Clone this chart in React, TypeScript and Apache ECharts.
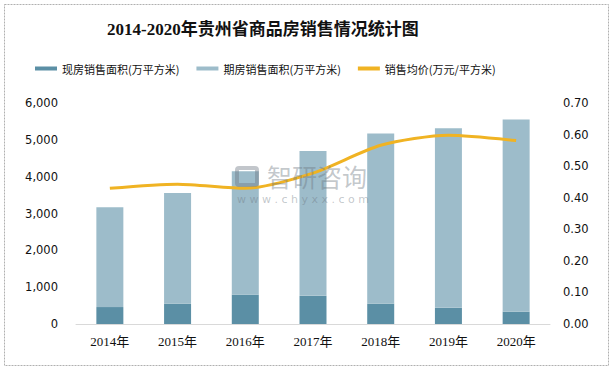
import React, { useEffect, useRef } from "react";
import * as echarts from "echarts";

const categories = ["2014年", "2015年", "2016年", "2017年", "2018年", "2019年", "2020年"];
const existingArea = [460, 550, 795, 765, 550, 440, 335];
const totalArea = [3170, 3555, 4150, 4695, 5170, 5315, 5550];
const futuresArea = totalArea.map((t, i) => t - existingArea[i]);
const avgPrice = [0.43, 0.443, 0.43, 0.478, 0.566, 0.598, 0.581];

const seriesNames = ["现房销售面积(万平方米)", "期房销售面积(万平方米)", "销售均价(万元/平方米)"];
const titleText = "2014-2020年贵州省商品房销售情况统计图";

export default function App() {
  const ref = useRef<HTMLDivElement>(null);
  useEffect(() => {
    document.body.style.margin = "0";
    const chart = echarts.init(ref.current!, null, { renderer: "svg" });
    const wmColor = "rgba(110,120,130,0.42)";
    chart.setOption({
      animation: false,
      backgroundColor: "#fff",
      title: {
        text: titleText,
        left: 102,
        top: 16,
        textStyle: {
          fontFamily: "'Liberation Serif', 'Noto Sans CJK SC', serif",
          fontSize: 17,
          fontWeight: "bold",
          color: "#111",
        },
      },
      legend: {
        left: 30,
        top: 58,
        icon: "rect",
        itemWidth: 22,
        itemHeight: 4,
        itemGap: 17,
        textStyle: {
          fontFamily: "'Noto Sans CJK SC', sans-serif",
          fontSize: 11,
          color: "#111",
        },
        data: seriesNames,
      },
      grid: { left: 76, right: 63, top: 103, bottom: 46 },
      xAxis: {
        type: "category",
        data: categories,
        axisLine: { lineStyle: { color: "#d9d9d9" } },
        axisTick: { show: false },
        axisLabel: {
          fontFamily: "'Liberation Serif', 'Noto Sans CJK SC', serif",
          fontSize: 13,
          color: "#111",
          margin: 11,
        },
      },
      yAxis: [
        {
          type: "value",
          min: 0,
          max: 6000,
          interval: 1000,
          splitLine: { show: false },
          axisLine: { show: false },
          axisTick: { show: false },
          axisLabel: {
            fontFamily: "'DejaVu Sans', sans-serif",
            fontSize: 11.5,
            color: "#111",
            margin: 18,
            formatter: (v: number) => v.toLocaleString("en-US"),
          },
        },
        {
          type: "value",
          min: 0,
          max: 0.7,
          interval: 0.1,
          splitLine: { show: false },
          axisLine: { show: false },
          axisTick: { show: false },
          axisLabel: {
            fontFamily: "'DejaVu Sans', sans-serif",
            fontSize: 11.5,
            color: "#111",
            margin: 13,
            formatter: (v: number) => v.toFixed(2),
          },
        },
      ],
      series: [
        {
          name: seriesNames[0],
          type: "bar",
          stack: "area",
          barWidth: 27,
          data: existingArea,
          itemStyle: { color: "#5b8fa5" },
        },
        {
          name: seriesNames[1],
          type: "bar",
          stack: "area",
          barWidth: 27,
          data: futuresArea,
          itemStyle: { color: "#9dbcca" },
        },
        {
          name: seriesNames[2],
          type: "line",
          yAxisIndex: 1,
          data: avgPrice,
          symbol: "none",
          smooth: 0.25,
          z: 5,
          lineStyle: { color: "#f0b323", width: 3 },
          itemStyle: { color: "#f0b323" },
        },
      ],
      graphic: [
        {
          type: "rect",
          z: 100,
          shape: { x: 4.5, y: 4.5, width: 604, height: 361 },
          style: { fill: "none", stroke: "#b0b0b0", lineWidth: 1, lineDash: [2, 1] },
          silent: true,
        },
        {
          type: "rect",
          z: 100,
          silent: true,
          shape: { x: 237, y: 168, width: 20, height: 17, r: 2 },
          style: { fill: "none", stroke: wmColor, lineWidth: 4 },
        },
        {
          type: "text",
          z: 100,
          silent: true,
          style: {
            x: 267,
            y: 176,
            text: "智研咨询",
            fontSize: 25,
            fontFamily: "'Noto Sans CJK SC', sans-serif",
            fill: wmColor,
            verticalAlign: "middle",
          },
        },
        {
          type: "text",
          z: 100,
          silent: true,
          style: {
            x: 237,
            y: 199,
            text: "w w w . c h y x x . c o m",
            fontSize: 11,
            fontFamily: "'DejaVu Sans', sans-serif",
            fill: wmColor,
            verticalAlign: "middle",
          },
        },
      ],
    });
    return () => chart.dispose();
  }, []);
  return <div ref={ref} style={{ width: 613, height: 370 }} />;
}
